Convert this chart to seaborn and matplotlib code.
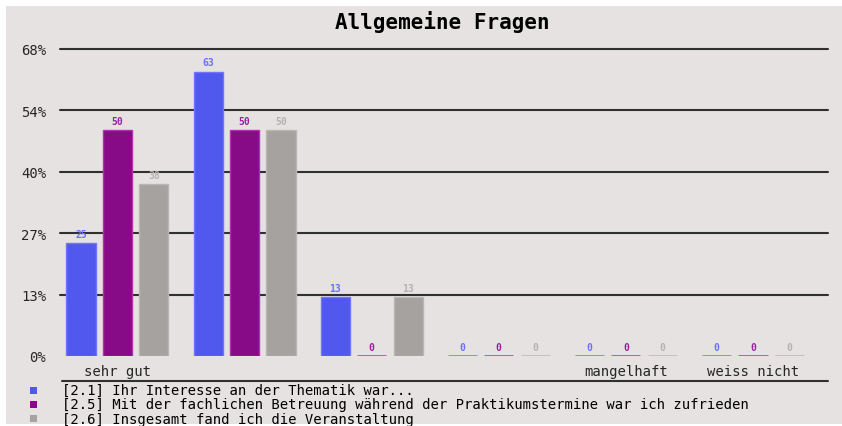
import pandas as pd
import matplotlib
matplotlib.use("Agg")
import matplotlib.pyplot as plt
import seaborn as sns
from matplotlib.patches import Rectangle
from matplotlib.lines import Line2D

# data
categories = ["sehr gut", "gut", "befriedigend", "ausreichend", "mangelhaft", "weiss nicht"]
tick_labels = ["sehr gut", "", "", "", "mangelhaft", "weiss nicht"]
series_names = [
    "[2.1] Ihr Interesse an der Thematik war...",
    "[2.5] Mit der fachlichen Betreuung während der Praktikumstermine war ich zufrieden",
    "[2.6] Insgesamt fand ich die Veranstaltung",
]
interesse = [25, 63, 13, 0, 0, 0]
betreuung = [50, 50, 0, 0, 0, 0]
insgesamt = [38, 50, 13, 0, 0, 0]
y_ticks = [0, 13.6, 27.2, 40.8, 54.4, 68]

bar_colors = ["#5058ee", "#870a87", "#a6a2a0"]
edge_colors = ["#7074ff", "#b030b0", "#bab6b4"]
label_colors = ["#6c70ff", "#a0209c", "#b6b2b0"]
bg = "#e6e2e2"

rows = []
for name, vals in zip(series_names, [interesse, betreuung, insgesamt]):
    for cat, v in zip(categories, vals):
        rows.append({"Kategorie": cat, "Prozent": v, "Frage": name})
df = pd.DataFrame(rows)

sns.set_style("white")
plt.rcParams["font.family"] = ["DejaVu Sans Mono", "DejaVu Sans"]

W, H = 842, 427
fig = plt.figure(figsize=(W / 100, H / 100), dpi=100)
fig.patch.set_facecolor("white")
fig.add_artist(Rectangle((6 / W, 1 - 425 / H), (W - 6) / W, (425 - 7) / H,
                         transform=fig.transFigure, facecolor=bg, edgecolor="none", zorder=-10))

ax = fig.add_axes([60 / W, 1 - 357 / H, (828 - 60) / W, (357 - 50) / H])
ax.set_facecolor("none")

sns.barplot(data=df, x="Kategorie", y="Prozent", hue="Frage", order=categories,
            hue_order=series_names, palette=bar_colors, saturation=1, width=0.86, gap=0.2,
            legend=False, ax=ax, zorder=3)

for cont, ec, lc, vals in zip(ax.containers, edge_colors, label_colors,
                              [interesse, betreuung, insgesamt]):
    for p, v in zip(cont.patches, vals):
        p.set_edgecolor(ec)
        p.set_linewidth(1.8 if v == 0 else 1.0)
    ax.bar_label(cont, labels=[str(v) for v in vals], padding=3, color=lc,
                 fontsize=7, fontweight="bold")

ax.set_ylim(0, 68)
ax.set_xlim(-0.452, 5.59)
ax.set_yticks(y_ticks)
ax.set_yticklabels([f"{int(t)}%" for t in y_ticks], fontsize=10)
ax.set_xticks(range(len(categories)))
ax.set_xticklabels(tick_labels, fontsize=10)
ax.tick_params(axis="both", length=0)
ax.tick_params(axis="y", pad=10)
ax.tick_params(axis="x", pad=6)
ax.set_xlabel("")
ax.set_ylabel("")
ax.set_axisbelow(True)
ax.yaxis.grid(True, color="#303030", linewidth=1.5)
for g in ax.yaxis.get_gridlines():
    g.set_clip_on(False)
ax.yaxis.get_gridlines()[0].set_visible(False)
for s in ax.spines.values():
    s.set_visible(False)

fig.text(442 / W, 1 - 22 / H, "Allgemeine Fragen", ha="center", va="center",
         fontsize=15, fontweight="bold", color="black")

# separator line above the legend
fig.add_artist(Line2D([62 / W, 828 / W], [1 - 382 / H] * 2, color="#303030",
                      linewidth=1.5, transform=fig.transFigure))

# legend rows
for i, (name, c) in enumerate(zip(series_names, bar_colors)):
    y = 1 - (391 + i * 14.3) / H
    fig.add_artist(Rectangle((30 / W, y - 3.5 / H), 7 / W, 7 / H,
                             transform=fig.transFigure, facecolor=c, edgecolor="none"))
    fig.text(62 / W, y, name, ha="left", va="center", fontsize=10, color="black")

fig.savefig("out.png", dpi=100, facecolor="white")
